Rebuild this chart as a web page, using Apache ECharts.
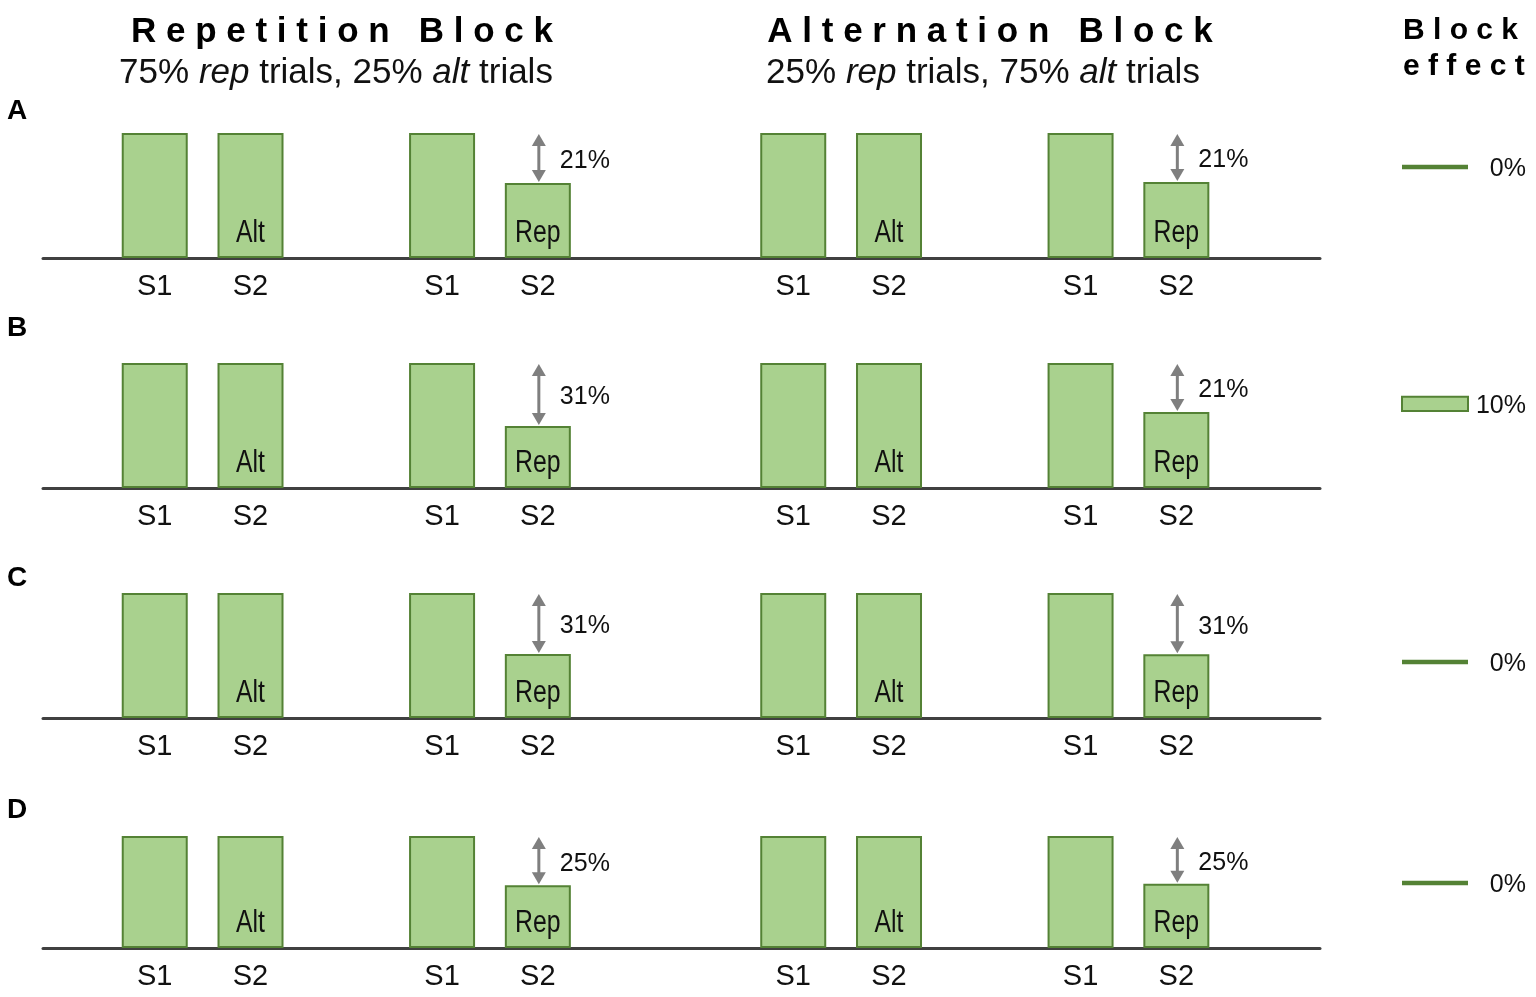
<!DOCTYPE html>
<html>
<head>
<meta charset="utf-8">
<script src="https://cdn.jsdelivr.net/npm/echarts@6/dist/echarts.min.js"></script>
<style>
html,body{margin:0;padding:0;background:#fff;}
#chart{width:1536px;height:997px;}
</style>
</head>
<body>
<div id="chart"></div>
<script>
// ---------------- DATA ----------------
const rowNames = ["A", "B", "C", "D"];
const conditions = ["S1", "S2", "S1", "S2", "S1", "S2", "S1", "S2"];   // tick labels
const barTags = ["", "Alt", "", "Rep", "", "Alt", "", "Rep"];
const fullHeight = [100, 100, 100, 89.6];        // S1 bars and S2-Alt bars
const repBlockRep = [60, 49.6, 51.2, 50.2];      // Rep S2 in Repetition Block
const altBlockRep = [60.8, 60.8, 51, 51.4];      // Rep S2 in Alternation Block
const repBlockLabel = ["21%", "31%", "31%", "25%"];
const altBlockLabel = ["21%", "21%", "31%", "25%"];
const blockEffect = [0, 11.5, 0, 0];
const blockEffectLabel = ["0%", "10%", "0%", "0%"];

// ---------------- LAYOUT ----------------
const layout = {
  baselines: [258, 488, 718, 948],
  unitPx: 1.25,            // px per value unit
  slotCount: 40,
  slotIndex: [3, 6, 12, 15, 23, 26, 32, 35],
  gridLeft: 43, gridWidth: 1277,
  blockLeft: 1402, blockWidth: 66,
  blockLevel: [72.8, 61.6, 44.8, 52],
  rowLabelY: [111, 328, 578, 810]
};

const FONT = "'Liberation Sans', Arial, Helvetica, sans-serif";
const FILL = '#a9d18e', EDGE = '#548235', ARROW = '#7f7f7f', TXT = '#111';

const gridH = 100 * layout.unitPx;
const grids = [], xAxes = [], yAxes = [], series = [];

const slotLabels = new Array(layout.slotCount).fill('');
layout.slotIndex.forEach((s, i) => { slotLabels[s] = conditions[i]; });

rowNames.forEach((name, r) => {
  const top = layout.baselines[r] - gridH;
  grids.push({ left: layout.gridLeft, top: top, width: layout.gridWidth, height: gridH });
  grids.push({ left: layout.blockLeft, top: top, width: layout.blockWidth, height: gridH });
  const gi = 2 * r, bi = 2 * r + 1;
  xAxes.push({
    gridIndex: gi, type: 'category', data: slotLabels,
    axisTick: { show: false },
    axisLine: { lineStyle: { color: '#404040', width: 3 } },
    axisLabel: { interval: 0, margin: 14, fontSize: 29, color: TXT, fontFamily: FONT },
    splitLine: { show: false }
  });
  yAxes.push({ gridIndex: gi, type: 'value', min: 0, max: 100, show: false });
  xAxes.push({ gridIndex: bi, type: 'category', data: ['effect'], show: false });
  yAxes.push({ gridIndex: bi, type: 'value', min: 0, max: 100, show: false });

  const vals = [fullHeight[r], fullHeight[r], fullHeight[r], repBlockRep[r],
                fullHeight[r], fullHeight[r], fullHeight[r], altBlockRep[r]];
  const barData = new Array(layout.slotCount).fill('-');
  layout.slotIndex.forEach((s, i) => { barData[s] = vals[i]; });
  series.push({
    type: 'bar', xAxisIndex: gi, yAxisIndex: gi, data: barData,
    barWidth: 66, animation: false, silent: true,
    itemStyle: { color: FILL, borderColor: EDGE, borderWidth: 2 }
  });

  // condensed tags inside S2 bars
  const tagData = [];
  barTags.forEach((t, i) => { if (t) tagData.push([layout.slotIndex[i], 0, i]); });
  series.push({
    type: 'custom', xAxisIndex: gi, yAxisIndex: gi, animation: false, silent: true, z: 5,
    data: tagData,
    renderItem: function (params, api) {
      const p = api.coord([api.value(0), 0]);
      return {
        type: 'text', x: p[0], y: p[1] - 25, scaleX: 0.8, scaleY: 1,
        style: { text: barTags[api.value(2)], x: 0, y: 0, align: 'center', verticalAlign: 'middle',
                 fontSize: 31, fontFamily: FONT, fill: TXT }
      };
    }
  });

  const arrowLabels = [repBlockLabel[r], altBlockLabel[r]];
  series.push({
    type: 'custom', xAxisIndex: gi, yAxisIndex: gi, animation: false, silent: true,
    data: [[layout.slotIndex[3], fullHeight[r], repBlockRep[r]],
           [layout.slotIndex[7], fullHeight[r], altBlockRep[r]]],
    renderItem: function (params, api) {
      const p1 = api.coord([api.value(0), api.value(1)]);
      const p2 = api.coord([api.value(0), api.value(2)]);
      const cx = p1[0] + 1, h = 13, w = 7;
      return {
        type: 'group', children: [
          { type: 'line', shape: { x1: cx, y1: p1[1] + h - 2, x2: cx, y2: p2[1] - h + 2 },
            style: { stroke: ARROW, lineWidth: 3 } },
          { type: 'polygon', shape: { points: [[cx, p1[1] + 1], [cx - w, p1[1] + h], [cx + w, p1[1] + h]] },
            style: { fill: ARROW } },
          { type: 'polygon', shape: { points: [[cx, p2[1] - 1], [cx - w, p2[1] - h], [cx + w, p2[1] - h]] },
            style: { fill: ARROW } },
          { type: 'text', style: { text: arrowLabels[params.dataIndex], x: cx + 21, y: (p1[1] + p2[1]) / 2 + 3,
            verticalAlign: 'middle', align: 'left', fontSize: 25, fontFamily: FONT, fill: TXT } }
        ]
      };
    }
  });

  series.push({
    type: 'custom', xAxisIndex: bi, yAxisIndex: bi, animation: false, silent: true,
    data: [[0, layout.blockLevel[r], blockEffect[r]]],
    renderItem: function (params, api) {
      const lvl = api.value(1), hgt = api.value(2);
      const pb = api.coord([0, lvl]);
      const pt = api.coord([0, lvl + hgt]);
      const bw = api.size([1, 0])[0];
      const x0 = pb[0] - bw / 2;
      const mark = hgt === 0
        ? { type: 'line', shape: { x1: x0, y1: pb[1], x2: x0 + bw, y2: pb[1] },
            style: { stroke: EDGE, lineWidth: 4.5 } }
        : { type: 'rect', shape: { x: x0, y: pt[1], width: bw, height: pb[1] - pt[1] },
            style: { fill: FILL, stroke: EDGE, lineWidth: 2 } };
      return {
        type: 'group', children: [mark,
          { type: 'text', style: { text: blockEffectLabel[r], x: x0 + 124, y: (pb[1] + pt[1]) / 2 + 2,
            align: 'right', verticalAlign: 'middle', fontSize: 25, fontFamily: FONT, fill: TXT } }]
      };
    }
  });
});

const graphics = [
  { type: 'text', x: 342, y: 32, style: { text: 'R e p e t i t i o n   B l o c k', align: 'center', verticalAlign: 'middle',
      fontSize: 35, fontWeight: 'bold', fontFamily: FONT, fill: '#000' } },
  { type: 'text', x: 990, y: 32, style: { text: 'A l t e r n a t i o n   B l o c k', align: 'center', verticalAlign: 'middle',
      fontSize: 35, fontWeight: 'bold', fontFamily: FONT, fill: '#000' } },
  { type: 'text', x: 336, y: 73, style: { text: '75% {i|rep} trials, 25% {i|alt} trials', align: 'center', verticalAlign: 'middle',
      fontSize: 35, fontFamily: FONT, fill: TXT, rich: { i: { fontStyle: 'italic', fontSize: 35, fontFamily: FONT, fill: TXT } } } },
  { type: 'text', x: 983, y: 73, style: { text: '25% {i|rep} trials, 75% {i|alt} trials', align: 'center', verticalAlign: 'middle',
      fontSize: 35, fontFamily: FONT, fill: TXT, rich: { i: { fontStyle: 'italic', fontSize: 35, fontFamily: FONT, fill: TXT } } } },
  { type: 'text', x: 1403, y: 31, style: { text: 'B l o c k', align: 'left', verticalAlign: 'middle',
      fontSize: 30, fontWeight: 'bold', fontFamily: FONT, fill: '#000' } },
  { type: 'text', x: 1403, y: 67, style: { text: 'e f f e c t', align: 'left', verticalAlign: 'middle',
      fontSize: 30, fontWeight: 'bold', fontFamily: FONT, fill: '#000' } }
];
rowNames.forEach((n, r) => {
  graphics.push({ type: 'text', x: 7, y: layout.rowLabelY[r], style: { text: n, align: 'left', verticalAlign: 'middle',
    fontSize: 28, fontWeight: 'bold', fontFamily: FONT, fill: '#000' } });
});

const chart = echarts.init(document.getElementById('chart'), null, { renderer: 'canvas' });
chart.setOption({
  backgroundColor: '#fff',
  animation: false,
  grid: grids, xAxis: xAxes, yAxis: yAxes, series: series,
  graphic: graphics
});
</script>
</body>
</html>
